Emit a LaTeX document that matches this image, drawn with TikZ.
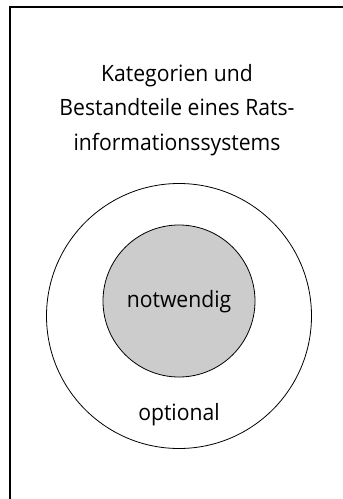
\documentclass[tikz,border=0pt]{standalone}
\usepackage{fontspec}
\setmainfont[FakeStretch=0.94]{Open Sans}
\begin{document}
\begin{tikzpicture}[x=1pt,y=-1pt,
  lbl/.style={anchor=base, inner sep=0pt, font=\fontsize{22.5}{27}\selectfont},
  ring/.style={circle, draw, line width=0.8pt, inner sep=0pt}]
\useasboundingbox (0,0) rectangle (343,499);
\draw[line width=2pt, line join=miter] (10,499) -- (10,6.5) -- (343,6.5);
\node[lbl] (t1) at (177,81) {Kategorien und};
\node[lbl] (t2) at (177,115) {Bestandteile eines Rats-};
\node[lbl] (t3) at (177,150) {informationssystems};
\node[ring, minimum size=265pt] (outer) at (179,316) {};
\node[ring, fill=gray!40, minimum size=152pt] (inner) at (179,301) {};
\node[lbl] (nw) at (179,307) {notwendig};
\node[lbl] (op) at (179,420) {optional};
\end{tikzpicture}
\end{document}
